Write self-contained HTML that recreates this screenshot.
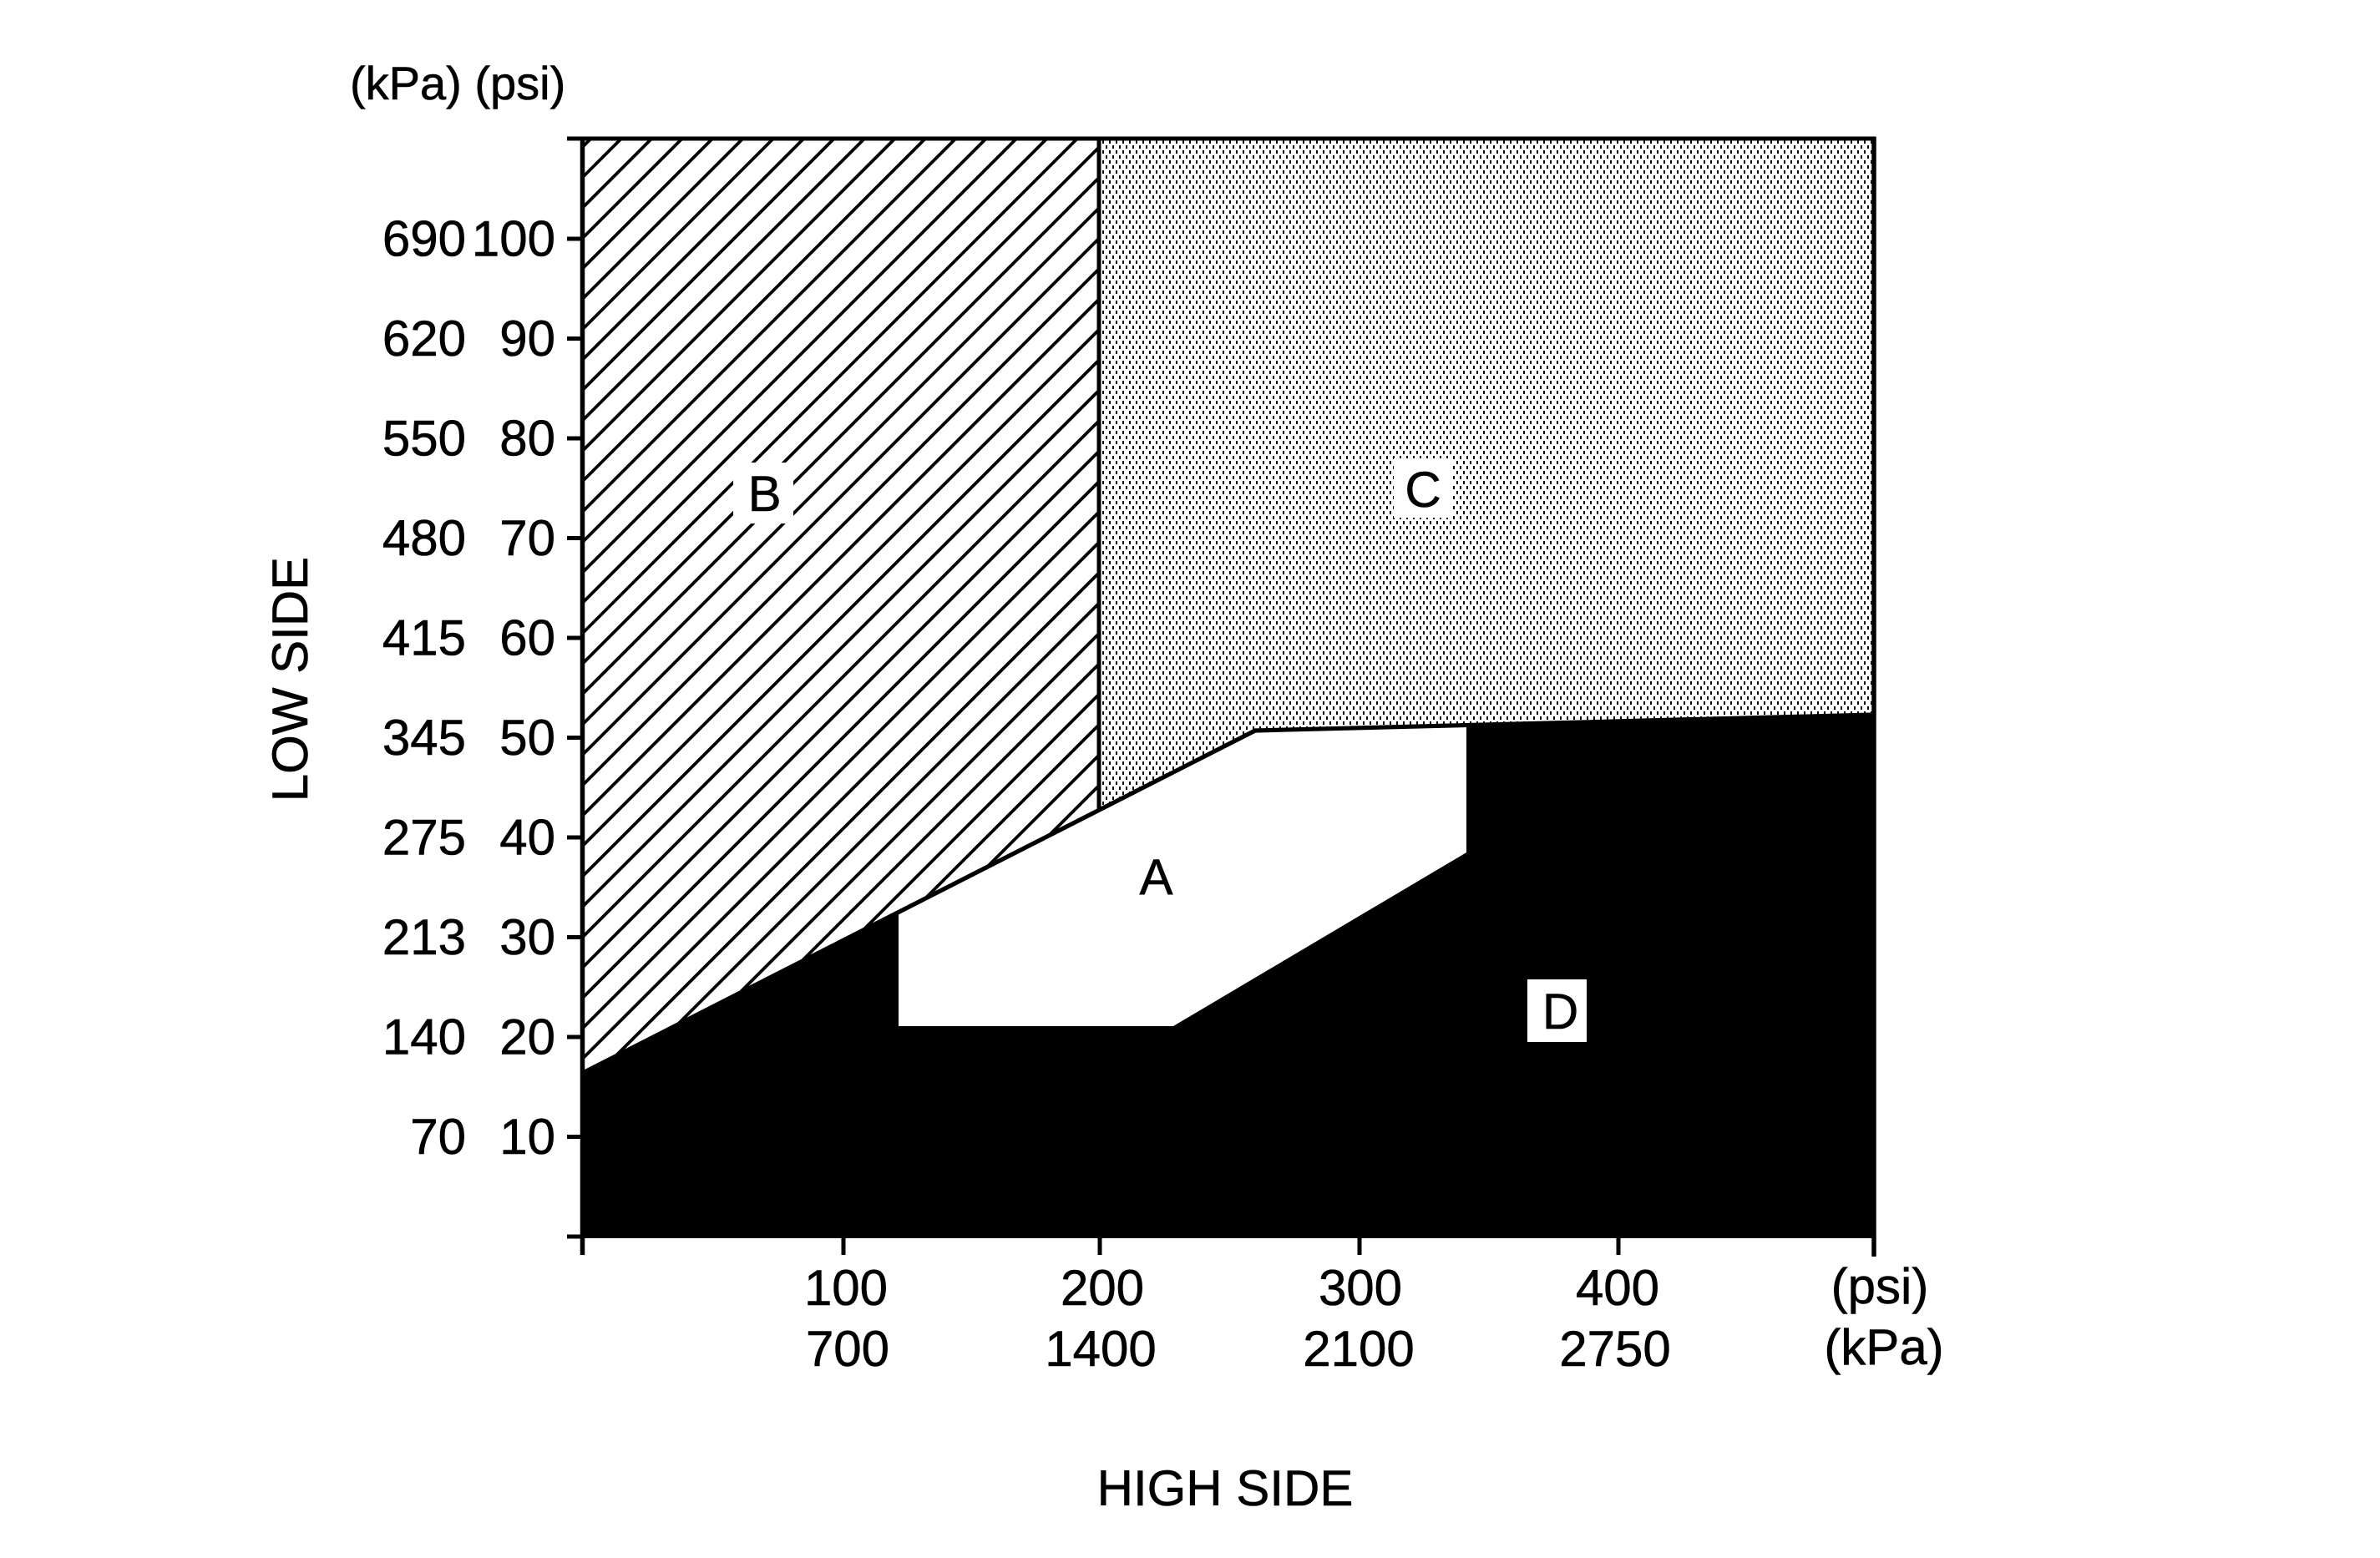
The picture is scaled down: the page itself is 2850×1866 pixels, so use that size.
<!DOCTYPE html>
<html>
<head>
<meta charset="utf-8">
<style>
  html, body { margin: 0; padding: 0; background: #ffffff; }
  svg { display: block; }
  text { font-family: "Liberation Sans", Arial, Helvetica, sans-serif; fill: #000; stroke: #000; stroke-width: 0.6; }
</style>
</head>
<body>
<svg width="2850" height="1866" viewBox="0 0 2850 1866" xmlns="http://www.w3.org/2000/svg">
  <defs>
    <pattern id="stip" patternUnits="userSpaceOnUse" width="8" height="12">
      <rect x="0" y="0" width="2" height="4" fill="#000" shape-rendering="crispEdges"/>
      <rect x="4" y="6" width="2" height="4" fill="#000" shape-rendering="crispEdges"/>
    </pattern>
    <clipPath id="clipB">
      <polygon points="698,166 1317,166 1317,970 698,1285"/>
    </clipPath>
  </defs>

  <rect x="0" y="0" width="2850" height="1866" fill="#fff"/>

  <!-- Region C stipple -->
  <polygon points="1317,166 2244,166 2244,856 1503,875 1317,970" fill="url(#stip)"/>

  <!-- Region B hatch -->
  <g clip-path="url(#clipB)">
    <path fill="none" stroke="#000" stroke-width="3.8"
      d="M650 223.6
      l750 -750 m-750 786.4 l750 -750 m-750 786.4 l750 -750 m-750 786.4 l750 -750 m-750 786.4
      l750 -750 m-750 786.4 l750 -750 m-750 786.4 l750 -750 m-750 786.4 l750 -750 m-750 786.4
      l750 -750 m-750 786.4 l750 -750 m-750 786.4 l750 -750 m-750 786.4 l750 -750 m-750 786.4
      l750 -750 m-750 786.4 l750 -750 m-750 786.4 l750 -750 m-750 786.4 l750 -750 m-750 786.4
      l750 -750 m-750 786.4 l750 -750 m-750 786.4 l750 -750 m-750 786.4 l750 -750 m-750 786.4
      l750 -750 m-750 786.4 l750 -750 m-750 786.4 l750 -750 m-750 786.4 l750 -750 m-750 786.4
      l750 -750 m-750 786.4 l750 -750 m-750 786.4 l750 -750 m-750 786.4 l750 -750 m-750 786.4
      l750 -750 m-750 786.4 l750 -750 m-750 786.4 l750 -750 m-750 786.4 l750 -750 m-750 786.4
      l750 -750 m-750 786.4 l750 -750 m-750 786.4 l750 -750 m-750 786.4 l750 -750 m-750 786.4
      l750 -750 m-750 786.4 l750 -750 m-750 786.4 l750 -750 m-750 786.4 l750 -750 m-750 786.4
      l750 -750 m-750 786.4 l750 -750 m-750 786.4 l750 -750"/>
  </g>

  <!-- Region D black -->
  <polygon points="698,1285 1076,1092.4 1076,1229 1405,1229 1756,1021 1756,868.5 2244,856 2244,1481 698,1481" fill="#000"/>

  <!-- Boundary lines -->
  <polyline points="698,1285 1503,875 2244,856" fill="none" stroke="#000" stroke-width="5.2" stroke-linejoin="miter"/>
  <line x1="1316" y1="166" x2="1316" y2="972" stroke="#000" stroke-width="5"/>

  <!-- Frame -->
  <line x1="679" y1="166" x2="2246.5" y2="166" stroke="#000" stroke-width="5"/>
  <line x1="697.5" y1="164" x2="697.5" y2="1503" stroke="#000" stroke-width="5.5"/>
  <line x1="2244" y1="164" x2="2244" y2="1505" stroke="#000" stroke-width="5.5"/>
  <line x1="679" y1="1481" x2="2246.5" y2="1481" stroke="#000" stroke-width="4"/>

  <!-- Y ticks -->
  <g stroke="#000" stroke-width="5">
    <line x1="679" y1="1481" x2="698" y2="1481"/>
    <line x1="679" y1="1361.5" x2="698" y2="1361.5"/>
    <line x1="679" y1="1242" x2="698" y2="1242"/>
    <line x1="679" y1="1122.5" x2="698" y2="1122.5"/>
    <line x1="679" y1="1003" x2="698" y2="1003"/>
    <line x1="679" y1="883.5" x2="698" y2="883.5"/>
    <line x1="679" y1="764" x2="698" y2="764"/>
    <line x1="679" y1="644.5" x2="698" y2="644.5"/>
    <line x1="679" y1="525" x2="698" y2="525"/>
    <line x1="679" y1="405.5" x2="698" y2="405.5"/>
    <line x1="679" y1="286" x2="698" y2="286"/>
  </g>

  <!-- X ticks -->
  <g stroke="#000" stroke-width="5">
    <line x1="1010" y1="1481" x2="1010" y2="1503"/>
    <line x1="1317" y1="1481" x2="1317" y2="1503"/>
    <line x1="1628" y1="1481" x2="1628" y2="1503"/>
    <line x1="1938" y1="1481" x2="1938" y2="1503"/>
  </g>

  <!-- Y labels -->
  <g font-size="60" text-anchor="end">
    <text x="558" y="306.5">690</text><text x="665" y="306.5">100</text>
    <text x="558" y="426">620</text><text x="665" y="426">90</text>
    <text x="558" y="545.5">550</text><text x="665" y="545.5">80</text>
    <text x="558" y="665">480</text><text x="665" y="665">70</text>
    <text x="558" y="784.5">415</text><text x="665" y="784.5">60</text>
    <text x="558" y="904">345</text><text x="665" y="904">50</text>
    <text x="558" y="1023.5">275</text><text x="665" y="1023.5">40</text>
    <text x="558" y="1143">213</text><text x="665" y="1143">30</text>
    <text x="558" y="1262.5">140</text><text x="665" y="1262.5">20</text>
    <text x="558" y="1382">70</text><text x="665" y="1382">10</text>
  </g>

  <text x="419" y="119" font-size="56">(kPa) (psi)</text>

  <!-- X labels -->
  <g font-size="60" text-anchor="middle">
    <text x="1013" y="1563">100</text><text x="1015" y="1636">700</text>
    <text x="1320" y="1563">200</text><text x="1318" y="1636">1400</text>
    <text x="1629" y="1563">300</text><text x="1627" y="1636">2100</text>
    <text x="1937" y="1563">400</text><text x="1934" y="1636">2750</text>
    <text x="2251" y="1561">(psi)</text><text x="2256" y="1634">(kPa)</text>
  </g>

  <!-- Axis titles -->
  <text x="1467" y="1803" font-size="60" text-anchor="middle">HIGH SIDE</text>
  <text transform="translate(368,813.5) rotate(-90)" font-size="60" text-anchor="middle">LOW SIDE</text>

  <!-- Region labels -->
  <rect x="878" y="554" width="72" height="73" fill="#fff"/>
  <text x="915.6" y="612" font-size="60" text-anchor="middle">B</text>

  <rect x="1669" y="549" width="71" height="71" fill="#fff"/>
  <text x="1704" y="607" font-size="60" text-anchor="middle">C</text>

  <rect x="1829" y="1173" width="71" height="75" fill="#fff"/>
  <text x="1868.5" y="1232" font-size="60" text-anchor="middle">D</text>

  <text x="1384.5" y="1071" font-size="60" text-anchor="middle">A</text>
</svg>
</body>
</html>
